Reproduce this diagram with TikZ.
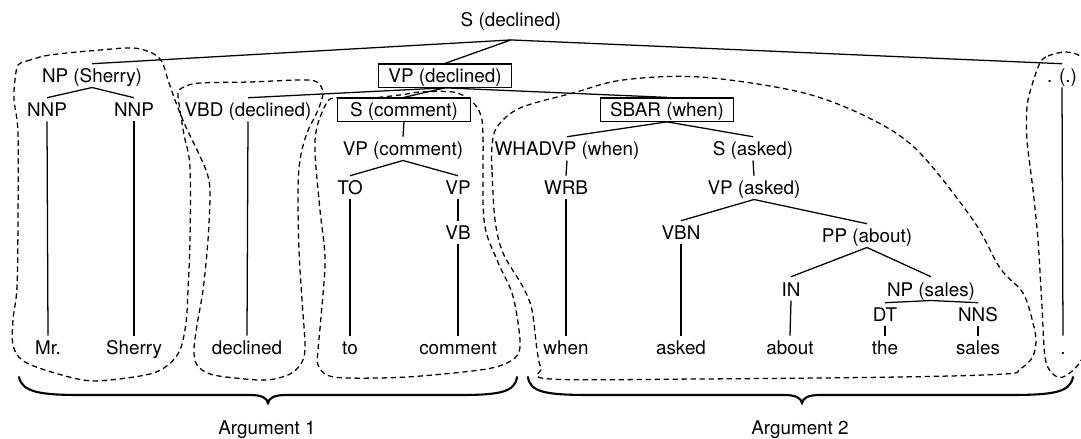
\documentclass[tikz,border=0pt]{standalone}
\usepackage{fontspec}
\setmainfont{TeX Gyre Heros}

\begin{document}
\begin{tikzpicture}[x=0.025cm,y=-0.025cm,
  tag/.style={anchor=base,inner sep=3pt,text height=10.5pt,text depth=0pt,font=\fontsize{13.4}{16}\selectfont},
  boxtag/.style={tag,draw,fill=white,minimum width=3.33cm,line width=0.9pt},
  branch/.style={line width=0.9pt},
  blob/.style={dash pattern=on 3.8pt off 2.6pt,line width=0.9pt},
  argbrace/.style={line width=1.5pt,line cap=round}]
\useasboundingbox (0,0) rectangle (1081,439);
\clip (0,0) rectangle (1081,439);

% dashed regions (drawn first, boxes cover them)
\draw[blob] plot[smooth cycle,tension=0.55] coordinates {(18,65) (27,61) (50,55) (100,50) (133,48) (152,53) (162,62) (168,80) (175,100) (185,125) (198,152) (207,173) (210,192) (208,240) (203,290) (197,325) (194,350) (197,365) (210,374) (235,378) (267,380) (290,374) (302,362) (305,345) (302,300) (299,250) (298,193) (300,160) (307,133) (318,110) (323,93) (317,82) (300,80) (250,82) (200,83) (184,87) (178,93) (180,110) (184,135) (190,167) (190,240) (188,290) (186,323) (180,350) (168,365) (150,374) (110,380) (83,380) (45,370) (22,360) (13,345) (13,320) (17,287) (18,220) (18,133) (14,100) (15,80)};
\draw[blob] plot[smooth cycle,tension=0.55] coordinates {(334,98) (360,99) (400,95) (420,92) (453,92) (470,100) (480,113) (483,135) (484,220) (497,260) (512,293) (519,330) (519,352) (507,363) (480,370) (407,377) (347,378) (327,375) (318,365) (318,350) (321,317) (325,260) (320,210) (315,153) (317,127) (326,104)};
\draw[blob] plot[smooth cycle,tension=0.55] coordinates {(495,220) (492,170) (492,147) (497,127) (520,108) (573,93) (623,80) (700,77) (800,92) (867,117) (917,150) (973,220) (1000,268) (1023,293) (1033,323) (1036,342) (1032,358) (1020,369) (1005,374) (900,377) (700,379) (550,379) (541,368) (537,350) (532,310) (523,287) (503,253)};
\draw[blob] plot[smooth cycle,tension=0.55] coordinates {(1040,63) (1048,56) (1065,52) (1080,56) (1090,70) (1092,200) (1090,330) (1080,362) (1063,377) (1052,373) (1045,357) (1042,307) (1038,240) (1033,190) (1027,140) (1027,107) (1032,85)};

% tree
\node[tag,text depth=6pt] (S) at (511,27) {S (declined)};
\node[tag] (NPs) at (92,83) {NP (Sherry)};
\node[boxtag] (VPd) at (445,83) {VP (declined)};
\node[tag] (dotp) at (1062,83) {. (.)};
\node[tag] (NNPa) at (47,117) {NNP};
\node[tag] (NNPb) at (134,117) {NNP};
\node[tag] (VBD) at (248,117) {VBD (declined)};
\node[boxtag] (Sc) at (404,117) {S (comment)};
\node[boxtag] (SBAR) at (667,117) {SBAR (when)};
\node[tag] (VPc) at (403,156) {VP (comment)};
\node[tag] (WHADVP) at (567,156) {WHADVP (when)};
\node[tag] (Sa) at (753,156) {S (asked)};
\node[tag] (TO) at (350,195) {TO};
\node[tag] (VPt) at (458,195) {VP};
\node[tag] (WRB) at (566,195) {WRB};
\node[tag] (VPa) at (754,195) {VP (asked)};
\node[tag] (VB) at (458,240) {VB};
\node[tag] (VBN) at (681,240) {VBN};
\node[tag] (PP) at (867,243) {PP (about)};
\node[tag] (IN) at (791,296) {IN};
\node[tag] (NPsal) at (931,296) {NP (sales)};
\node[tag] (DT) at (885,322) {DT};
\node[tag] (NNS) at (978,322) {NNS};

% words
\node[tag] (wMr) at (48,355) {Mr.};
\node[tag] (wSherry) at (134,355) {Sherry};
\node[tag] (wdeclined) at (247,355) {declined};
\node[tag] (wto) at (350,355) {to};
\node[tag] (wcomment) at (458,355) {comment};
\node[tag] (wwhen) at (566,355) {when};
\node[tag] (wasked) at (681,355) {asked};
\node[tag] (wabout) at (790,355) {about};
\node[tag] (wthe) at (885,355) {the};
\node[tag] (wsales) at (978,355) {sales};
\node[tag] (wdot) at (1063,355) {.};

\foreach \a/\b in {S/NPs,S/VPd,S/dotp,NPs/NNPa,NPs/NNPb,VPd/VBD,VPd/Sc,VPd/SBAR,
  Sc/VPc,SBAR/WHADVP,SBAR/Sa,VPc/TO,VPc/VPt,WHADVP/WRB,Sa/VPa,VPt/VB,VPa/VBN,VPa/PP,
  PP/IN,PP/NPsal,NPsal/DT,NPsal/NNS,
  NNPa/wMr,NNPb/wSherry,VBD/wdeclined,TO/wto,VB/wcomment,WRB/wwhen,VBN/wasked,
  IN/wabout,DT/wthe,NNS/wsales,dotp/wdot}
  \draw[branch] (\a.south) -- (\b.north);

% braces
\draw[argbrace] (19,377) .. controls (22,392) and (40,395) .. (80,395) -- (250,395)
  .. controls (262,395) and (267,398) .. (268,403) .. controls (269,398) and (274,395) .. (286,395)
  -- (460,395) .. controls (500,395) and (515,392) .. (517,377);
\draw[argbrace] (528,377) .. controls (530,392) and (545,395) .. (590,395) -- (784,395)
  .. controls (796,395) and (801,398) .. (802,403) .. controls (803,398) and (808,395) .. (820,395)
  -- (1010,395) .. controls (1055,395) and (1070,392) .. (1073,377);
\node[tag] (arg1) at (267,435) {Argument 1};
\node[tag] (arg2) at (800,435) {Argument 2};
\end{tikzpicture}
\end{document}
